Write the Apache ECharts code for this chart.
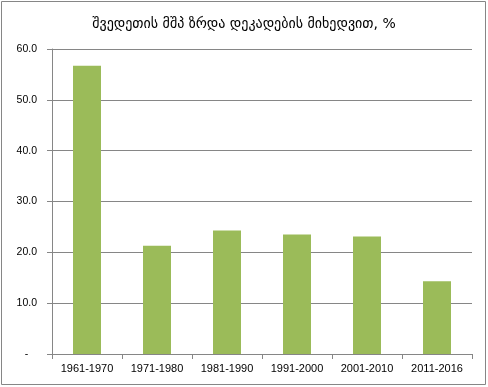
<!DOCTYPE html>
<html>
<head>
<meta charset="utf-8">
<script src="https://cdn.jsdelivr.net/npm/echarts@6/dist/echarts.min.js"></script>
<style>html,body{margin:0;padding:0;background:#fff}#c{width:488px;height:387px}</style>
</head>
<body>
<div id="c"></div>
<script>
const titleText = 'შვედეთის მშპ ზრდა დეკადების მიხედვით, %';
const categories = ['1961-1970', '1971-1980', '1981-1990', '1991-2000', '2001-2010', '2011-2016'];
const growthValues = [56.7, 21.3, 24.3, 23.5, 23.1, 14.3];
const yTicks = [0, 10, 20, 30, 40, 50, 60];

const chart = echarts.init(document.getElementById('c'), null, {renderer: 'canvas'});
const gray = '#868686';
chart.setOption({
  animation: false,
  backgroundColor: '#fff',
  title: {
    text: titleText,
    left: 'center',
    top: 12,
    textStyle: {fontFamily: 'DejaVu Sans', fontSize: 14, fontWeight: 'normal', color: '#000'}
  },
  graphic: [{
    type: 'rect',
    shape: {x: 1.5, y: 1.5, width: 484, height: 383},
    style: {fill: 'none', stroke: gray, lineWidth: 1},
    silent: true
  }],
  grid: {left: 52, right: 16, top: 49, bottom: 33, containLabel: false},
  xAxis: {
    type: 'category',
    data: categories,
    axisLine: {lineStyle: {color: gray, width: 1}},
    axisTick: {show: true, length: 5, lineStyle: {color: gray}},
    axisLabel: {color: '#000', fontFamily: 'Liberation Sans', fontSize: 11, margin: 9}
  },
  yAxis: {
    type: 'value',
    min: yTicks[0],
    max: yTicks[yTicks.length - 1],
    interval: 10,
    axisLine: {show: true, lineStyle: {color: gray, width: 1}},
    axisTick: {show: true, length: 5, lineStyle: {color: gray}},
    splitLine: {show: true, lineStyle: {color: gray, width: 1}},
    axisLabel: {
      color: '#000', fontFamily: 'Liberation Sans', fontSize: 10.5, margin: 15,
      formatter: v => v === 0 ? '-   ' : v.toFixed(1)
    }
  },
  series: [{
    type: 'bar',
    data: growthValues,
    barWidth: '40%',
    itemStyle: {color: '#9BBB59'}
  }]
});
</script>
</body>
</html>
